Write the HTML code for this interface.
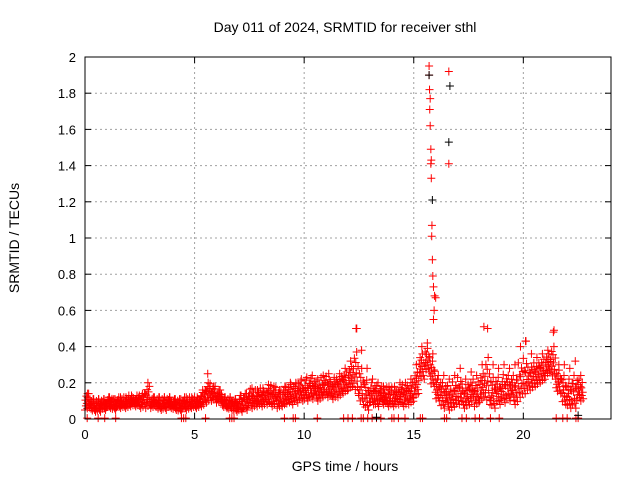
<!DOCTYPE html>
<html><head><meta charset="utf-8">
<style>
body{margin:0;background:#fff;}
svg{display:block;font-family:"Liberation Sans",sans-serif;}
</style></head>
<body>
<svg id="chart" width="640" height="480" xmlns="http://www.w3.org/2000/svg">
<rect width="640" height="480" fill="#fff"/>
<text x="345" y="32" font-size="14" text-anchor="middle">Day 011 of 2024, SRMTID for receiver sthl</text>
<text x="345" y="471" font-size="14" text-anchor="middle">GPS time / hours</text>
<text x="19" y="238" font-size="14" text-anchor="middle" transform="rotate(-90 19 238)">SRMTID / TECUs</text>
<g id="grid"></g><g id="marks"></g><g id="axes"></g>
</svg>
<script>
// data
const binHours=[0,0.25,0.5,0.75,1,1.25,1.5,1.75,2,2.25,2.5,2.75,3,3.25,3.5,3.75,4,4.25,4.5,4.75,5,5.25,5.5,5.75,6,6.25,6.5,6.75,7,7.25,7.5,7.75,8,8.25,8.5,8.75,9,9.25,9.5,9.75,10,10.25,10.5,10.75,11,11.25,11.5,11.75,12,12.25,12.5,12.75,13,13.25,13.5,13.75,14,14.25,14.5,14.75,15,15.25,15.5,15.75,16,16.25,16.5,16.75,17,17.25,17.5,17.75,18,18.25,18.5,18.75,19,19.25,19.5,19.75,20,20.25,20.5,20.75,21,21.25,21.5,21.75,22,22.25,22.5];
const binLow=[0.05,0.04,0.04,0.05,0.06,0.05,0.06,0.06,0.07,0.07,0.06,0.06,0.06,0.05,0.05,0.06,0.05,0.04,0.05,0.06,0.06,0.07,0.09,0.10,0.09,0.06,0.05,0.04,0.04,0.05,0.06,0.07,0.07,0.08,0.07,0.06,0.07,0.08,0.09,0.10,0.10,0.11,0.10,0.12,0.12,0.11,0.12,0.14,0.16,0.14,0.08,0.05,0.08,0.07,0.08,0.07,0.07,0.08,0.07,0.08,0.12,0.22,0.26,0.18,0.10,0.06,0.05,0.07,0.08,0.06,0.08,0.07,0.10,0.08,0.06,0.08,0.09,0.10,0.08,0.12,0.14,0.16,0.18,0.20,0.24,0.22,0.14,0.08,0.06,0.06,0.10];
const binHigh=[0.14,0.11,0.11,0.11,0.12,0.11,0.12,0.12,0.13,0.13,0.14,0.20,0.12,0.12,0.12,0.12,0.11,0.11,0.12,0.12,0.12,0.16,0.20,0.18,0.16,0.12,0.12,0.11,0.13,0.14,0.17,0.16,0.17,0.19,0.18,0.16,0.18,0.20,0.20,0.22,0.23,0.24,0.22,0.24,0.25,0.23,0.25,0.28,0.32,0.50,0.38,0.28,0.22,0.20,0.18,0.18,0.18,0.20,0.20,0.22,0.30,0.40,0.42,0.36,0.24,0.24,0.22,0.24,0.28,0.22,0.26,0.24,0.30,0.50,0.30,0.28,0.30,0.28,0.30,0.40,0.43,0.36,0.34,0.36,0.38,0.48,0.30,0.30,0.28,0.32,0.24];
const spikeHours=[15.7,15.7,15.72,15.75,15.73,15.75,15.78,15.8,15.78,15.8,15.83,15.82,15.85,15.87,15.9,15.95,16,15.93,15.9,16.6,16.6,12.4,5.6,18.2,21.4,20.1];
const spikeValues=[1.95,1.9,1.82,1.77,1.71,1.62,1.49,1.43,1.41,1.33,1.07,1.01,0.88,0.79,0.73,0.68,0.67,0.6,0.55,1.92,1.41,0.5,0.25,0.51,0.49,0.43];
const blackHours=[15.7,15.85,16.65,16.6,13.3,22.5];
const blackValues=[1.9,1.21,1.84,1.53,0.01,0.02];
const zeroHours=[0.1,0.6,0.9,1.4,4.4,4.5,4.6,5.5,6.6,6.7,6.8,9.1,9.5,9.6,10.6,11.8,12.0,12.2,12.6,12.7,12.9,13.1,13.3,13.5,14.0,14.1,14.3,14.6,15.3,15.4,16.4,16.5,17.2,17.4,17.8,18.0,18.5,18.9,21.5,21.8,22.0,22.4,22.5];
const xTicks=[0,5,10,15,20];
const yTicks=[0,0.2,0.4,0.6,0.8,1,1.2,1.4,1.6,1.8,2];

const X0=85,X1=611,Y0=419,Y1=57,XMAX=24,YMAX=2;
const sx=h=>X0+(X1-X0)*h/XMAX;
const sy=v=>Y0-(Y0-Y1)*v/YMAX;
const NS="http://www.w3.org/2000/svg";
function mk(tag,attrs,parent){const e=document.createElementNS(NS,tag);for(const k in attrs)e.setAttribute(k,attrs[k]);parent.appendChild(e);return e;}
const grid=document.getElementById('grid'),marks=document.getElementById('marks'),axes=document.getElementById('axes');
xTicks.forEach(t=>{
 if(t>0){const l=mk('line',{x1:sx(t),x2:sx(t),y1:Y1,y2:Y0,stroke:'#a0a0a0','stroke-dasharray':'2,3'},grid);
 
 }
 mk('line',{x1:sx(t),x2:sx(t),y1:Y0,y2:Y0-6,stroke:'#000'},axes);
 mk('line',{x1:sx(t),x2:sx(t),y1:Y1,y2:Y1+6,stroke:'#000'},axes);
 const tx=mk('text',{x:sx(t),y:Y0+20,'font-size':13,'text-anchor':'middle'},axes);tx.textContent=t;
 
 
});
yTicks.forEach(t=>{
 if(t>0&&t<2){const l=mk('line',{x1:X0,x2:X1,y1:sy(t),y2:sy(t),stroke:'#a0a0a0','stroke-dasharray':'2,3'},grid);
 
 }
 mk('line',{x1:X0,x2:X0+6,y1:sy(t),y2:sy(t),stroke:'#000'},axes);
 mk('line',{x1:X1,x2:X1-6,y1:sy(t),y2:sy(t),stroke:'#000'},axes);
 const tx=mk('text',{x:X0-9,y:sy(t)+5,'font-size':13,'text-anchor':'end'},axes);tx.textContent=String(t);
 
 
});
const fr=mk('rect',{x:X0,y:Y1,width:X1-X0,height:Y0-Y1,fill:'none',stroke:'#000'},axes);


function cross(h,v,col){
 const x=sx(h),y=sy(v);
 const p=mk('path',{d:`M${x-4} ${y}H${x+4}M${x} ${y-4}V${y+4}`,stroke:col,'stroke-width':1,fill:'none'},marks);
 
 
}
const pattern=[0,0.6,0.25,0.85,0.4,0.1,0.75,0.5,1.0,0.3,0.15,0.65];
binHours.forEach((h,i)=>{
 const lo=binLow[i],hi=binHigh[i];
 const top=Math.min(hi,Math.max(lo+0.1,(lo+hi)/2+0.05));
 const n=12;
 for(let k=0;k<n;k++){
   const v=lo+(top-lo)*pattern[(k+i)%n];
   cross(h+k*0.25/n,v,'#ff0000');
 }
 cross(h+0.12,hi,'#ff0000');
});
zeroHours.forEach(h=>cross(h,0.005,'#ff0000'));
spikeHours.forEach((h,i)=>cross(h,spikeValues[i],'#ff0000'));
blackHours.forEach((h,i)=>cross(h,blackValues[i],'#000000'));
</script>
</body></html>
